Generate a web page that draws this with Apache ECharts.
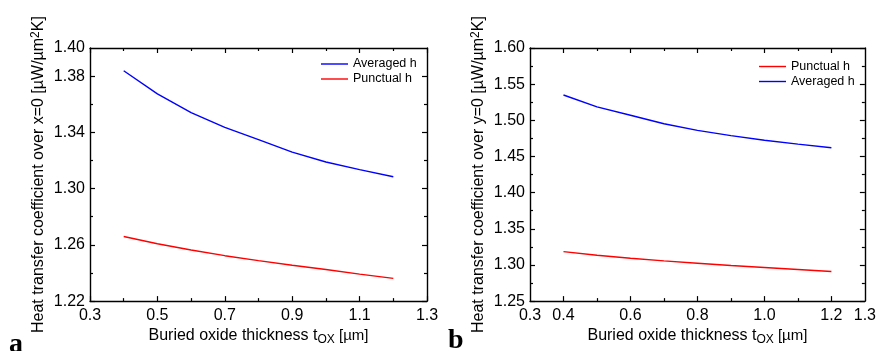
<!DOCTYPE html>
<html><head><meta charset="utf-8">
<script src="https://cdn.jsdelivr.net/npm/echarts@6/dist/echarts.min.js"></script>
<style>html,body{margin:0;padding:0;background:#fff}#c{width:879px;height:351px}</style>
</head><body><div id="c"></div>
<script>
// ---- data ----
const thickness = [0.4, 0.5, 0.6, 0.7, 0.8, 0.9, 1.0, 1.1, 1.2];
const averagedA = [1.3838, 1.3674, 1.3540, 1.3435, 1.3348, 1.3259, 1.3189, 1.3135, 1.3084];
const punctualA = [1.2659, 1.2608, 1.2563, 1.2523, 1.2488, 1.2455, 1.2425, 1.2392, 1.2362];
const averagedB = [1.5350, 1.5185, 1.5070, 1.4952, 1.4861, 1.4788, 1.4724, 1.4670, 1.4620];
const punctualB = [1.3184, 1.3134, 1.3093, 1.3056, 1.3024, 1.2992, 1.2965, 1.2938, 1.2910];

const xLabelsA = [0.3, 0.5, 0.7, 0.9, 1.1, 1.3];
const xMajorA = [0.3, 0.5, 0.7, 0.9, 1.1, 1.3];
const xMinorA = [0.4, 0.6, 0.8, 1.0, 1.2];
const yLabelsA = [1.22, 1.26, 1.30, 1.34, 1.38, 1.40];
const yMajorA = [1.22, 1.26, 1.30, 1.34, 1.38];
const yMinorA = [1.24, 1.28, 1.32, 1.36];

const xLabelsB = [0.3, 0.4, 0.6, 0.8, 1.0, 1.2, 1.3];
const xMajorB = [0.4, 0.6, 0.8, 1.0, 1.2];
const xMinorB = [0.5, 0.7, 0.9, 1.1];
const yLabelsB = [1.25, 1.30, 1.35, 1.40, 1.45, 1.50, 1.55, 1.60];
const yMajorB = [1.25, 1.30, 1.35, 1.40, 1.45, 1.50, 1.55, 1.60];
const yMinorB = [1.275, 1.325, 1.375, 1.425, 1.475, 1.525, 1.575];

const seriesNames = ['Averaged h', 'Punctual h'];
const yTitleA = 'Heat transfer coefficient over x=0 [µW/µm';
const yTitleB = 'Heat transfer coefficient over y=0 [µW/µm';

// ---- chart ----
const FONT = '"Liberation Sans", Arial, sans-serif';
const chart = echarts.init(document.getElementById('c'), null, {renderer: 'canvas'});
const xAxes = [], yAxes = [];

function addAxes(list, dim, grid, min, max, labels, majors, minors, fmt, name, nameOpts) {
  const sides = dim === 'x' ? ['bottom', 'top'] : ['left', 'right'];
  let mainIndex = -1;
  sides.forEach((pos, si) => {
    const main = {
      type: 'value', gridIndex: grid, position: pos, min: min, max: max,
      axisLine: {show: true, onZero: false, lineStyle: {color: '#000', width: 1.4}},
      axisTick: {show: true, inside: true, length: 5, customValues: majors, lineStyle: {color: '#000', width: 1.2}},
      axisLabel: si === 0 ? {show: true, customValues: labels, formatter: fmt, color: '#000', fontSize: 16, fontFamily: FONT, margin: dim === 'x' ? 6 : 5} : {show: false},
      splitLine: {show: false}
    };
    if (si === 0 && name) Object.assign(main, nameOpts, {name: name});
    if (si === 0) mainIndex = list.length;
    list.push(main);
    list.push({
      type: 'value', gridIndex: grid, position: pos, min: min, max: max,
      axisLine: {show: false, onZero: false},
      axisTick: {show: true, inside: true, length: 3, customValues: minors, lineStyle: {color: '#000', width: 1.2}},
      axisLabel: {show: false}, splitLine: {show: false}
    });
  });
  return mainIndex;
}

const xNameOpts = {
  nameLocation: 'middle', nameGap: 24,
  nameTextStyle: {color: '#000', fontSize: 16, fontFamily: FONT,
    rich: {n: {fontSize: 16, fontFamily: FONT, color: '#000'},
           s: {fontSize: 12, fontFamily: FONT, color: '#000', verticalAlign: 'bottom', padding: [8, 0, 0, 0]},
           u: {fontSize: 15, fontFamily: FONT, color: '#000'}}}
};
const yNameOpts = {
  nameLocation: 'middle', nameGap: 42, nameRotate: 90,
  nameTextStyle: {color: '#000', fontSize: 16, fontFamily: FONT,
    rich: {n: {fontSize: 16, fontFamily: FONT, color: '#000'},
           s: {fontSize: 12, fontFamily: FONT, color: '#000', verticalAlign: 'top', padding: [0, 0, 6, 0]}}}
};
const xName = '{n|Buried oxide thickness t}{s|OX}{u| [µm]}';

const f1 = v => v.toFixed(1), f2 = v => v.toFixed(2);
const xa0 = addAxes(xAxes, 'x', 0, 0.3, 1.3, xLabelsA, xMajorA, xMinorA, f1, xName, xNameOpts);
const ya0 = addAxes(yAxes, 'y', 0, 1.22, 1.40, yLabelsA, yMajorA, yMinorA, f2, '{n|' + yTitleA + '}{s|2}{n|K]}', yNameOpts);
const xa1 = addAxes(xAxes, 'x', 1, 0.3, 1.3, xLabelsB, xMajorB, xMinorB, f1, xName, xNameOpts);
const ya1 = addAxes(yAxes, 'y', 1, 1.25, 1.60, yLabelsB, yMajorB, yMinorB, f2, '{n|' + yTitleB + '}{s|2}{n|K]}', yNameOpts);

function mk(name, xs, ys, xi, yi, color) {
  return {type: 'line', name: name, xAxisIndex: xi, yAxisIndex: yi, symbol: 'none', showSymbol: false,
    data: xs.map((x, i) => [x, ys[i]]), lineStyle: {color: color, width: 1.4}, itemStyle: {color: color},
    emphasis: {disabled: true}, animation: false};
}

const legendText = {color: '#000', fontSize: 12.5, fontFamily: FONT, padding: [0, 0, 0, 0]};
const legendBase = {orient: 'vertical', icon: 'rect', itemWidth: 27, itemHeight: 1.4, itemGap: 2, padding: 0,
  textStyle: legendText, selectedMode: false};
chart.setOption({
  animation: false,
  grid: [
    {left: 90, top: 48, width: 337, height: 256},
    {left: 530, top: 48, width: 337, height: 256}
  ],
  xAxis: xAxes, yAxis: yAxes,
  legend: [
    Object.assign({left: 321, top: 57.5, data: [seriesNames[0], seriesNames[1]]}, legendBase),
    Object.assign({left: 759, top: 60, data: [seriesNames[1], seriesNames[0]]}, legendBase)
  ],
  series: [
    mk(seriesNames[0], thickness, averagedA, xa0, ya0, '#0000ff'),
    mk(seriesNames[1], thickness, punctualA, xa0, ya0, '#ff0000'),
    mk(seriesNames[1], thickness, punctualB, xa1, ya1, '#ff0000'),
    mk(seriesNames[0], thickness, averagedB, xa1, ya1, '#0000ff')
  ],
  graphic: [
    {type: 'text', left: 9, top: 331, style: {text: 'a', font: 'bold 28px "Liberation Serif", "Times New Roman", serif', fill: '#000'}},
    {type: 'text', left: 448, top: 327, style: {text: 'b', font: 'bold 28px "Liberation Serif", "Times New Roman", serif', fill: '#000'}}
  ]
});
</script></body></html>
